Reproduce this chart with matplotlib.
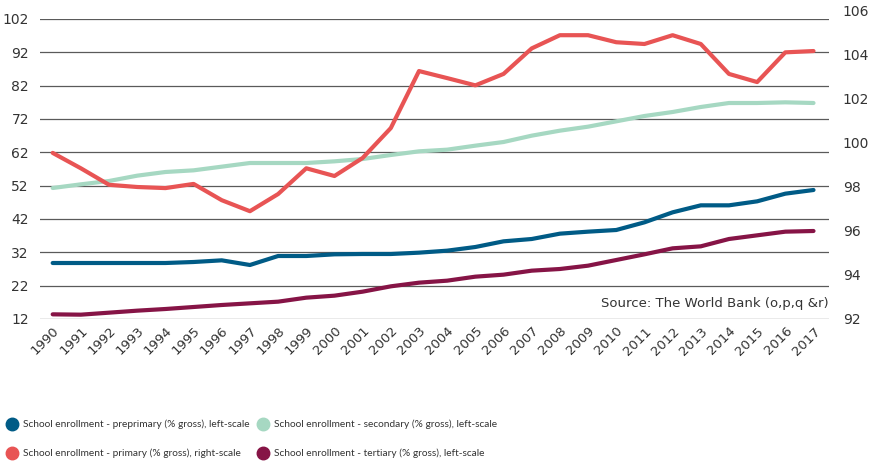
import matplotlib
matplotlib.use("Agg")
import matplotlib.pyplot as plt
from matplotlib.lines import Line2D
from matplotlib import font_manager as fm

plt.rcParams["font.family"] = ["DejaVu Sans"]

years = list(range(1990, 2018))
preprimary = [28.8, 28.8, 28.8, 28.8, 28.8, 29.1, 29.6, 28.2, 30.9, 30.9, 31.4, 31.5, 31.5, 31.9,
              32.5, 33.6, 35.3, 36.0, 37.6, 38.2, 38.7, 41.0, 44.0, 46.1, 46.1, 47.3, 49.6, 50.7]
secondary = [51.3, 52.4, 53.4, 55.0, 56.1, 56.6, 57.7, 58.8, 58.8, 58.8, 59.3, 60.0, 61.2, 62.3,
             62.8, 64.0, 65.1, 67.0, 68.5, 69.7, 71.3, 72.9, 74.1, 75.6, 76.8, 76.8, 77.0, 76.8]
tertiary = [13.4, 13.3, 13.9, 14.5, 15.0, 15.6, 16.2, 16.7, 17.2, 18.4, 19.0, 20.2, 21.8, 22.9,
            23.5, 24.7, 25.3, 26.5, 27.0, 28.0, 29.7, 31.4, 33.2, 33.8, 36.0, 37.1, 38.2, 38.4]
primary = [99.55, 98.85, 98.1, 98.0, 97.95, 98.14, 97.4, 96.9, 97.68, 98.85, 98.5, 99.32, 100.68, 103.27,
           102.95, 102.62, 103.14, 104.3, 104.9, 104.9, 104.58, 104.5, 104.9, 104.5, 103.14, 102.77, 104.12, 104.18]

left_ticks = [12, 22, 32, 42, 52, 62, 72, 82, 92, 102]
right_ticks = [92, 94, 96, 98, 100, 102, 104, 106]

legend_labels = [
    "School enrollment - preprimary (% gross), left-scale",
    "School enrollment - secondary (% gross), left-scale",
    "School enrollment - primary (% gross), right-scale",
    "School enrollment - tertiary (% gross), left-scale",
]

c_pre = "#005B86"
c_sec = "#A6D8C2"
c_pri = "#E85454"
c_ter = "#861446"

W, H = 874, 468
fig = plt.figure(figsize=(W / 100, H / 100), dpi=100)
L, R, T, B = 40, 829, 19, 319
ax = fig.add_axes([L / W, 1 - B / H, (R - L) / W, (B - T) / H])
T2 = 11
ax2 = fig.add_axes([L / W, 1 - B / H, (R - L) / W, (B - T2) / H], sharex=ax)
ax2.patch.set_visible(False)

tc = "#333333"
ax.set_ylim(12, 102)
ax.set_yticks(left_ticks)
ax.set_xlim(1989.55, 2017.55)
ax.set_xticks(years)
ax.set_xticklabels([str(y) for y in years], rotation=45, ha="right", rotation_mode="anchor",
                   fontsize=9.5, color=tc)
ax.tick_params(axis="both", length=0, colors=tc)
ax.tick_params(axis="y", labelsize=10, pad=8)
ax.tick_params(axis="x", pad=4)
ax.grid(axis="y", color="#5a5a5a", linewidth=0.9)
ax.set_axisbelow(True)
for s in ax.spines.values():
    s.set_visible(False)

ax.plot(years, secondary, color=c_sec, lw=3, solid_capstyle="round", zorder=3)
ax.plot(years, preprimary, color=c_pre, lw=3, solid_capstyle="round", zorder=3)
ax.plot(years, tertiary, color=c_ter, lw=3, solid_capstyle="round", zorder=3)

ax2.set_ylim(92, 106)
ax2.set_yticks(right_ticks)
ax2.yaxis.tick_right()
ax2.tick_params(axis="y", length=0, labelsize=10, colors=tc, pad=10)
ax2.tick_params(axis="x", which="both", bottom=False, labelbottom=False)
for s in ax2.spines.values():
    s.set_visible(False)
ax2.plot(years, primary, color=c_pri, lw=3, solid_capstyle="round", zorder=4)

fig.text(R / W, 1 - 303 / H, "Source: The World Bank (o,p,q &r)", ha="right", va="center",
         fontsize=9.5, color=tc)

# choose the narrowest installed sans family for the legend labels
fig.canvas.draw()
r = fig.canvas.get_renderer()
best_fam, best_w = "DejaVu Sans", None
for fam in ["Liberation Sans", "Roboto", "Lato", "Noto Sans", "Open Sans", "DejaVu Sans"]:
    try:
        fm.findfont(fm.FontProperties(family=fam), fallback_to_default=False)
    except Exception:
        continue
    t = fig.text(0, 0, legend_labels[0], fontsize=10, family=[fam])
    w = t.get_window_extent(r).width
    t.remove()
    if best_w is None or w < best_w:
        best_fam, best_w = fam, w
size = min(10.5, 10.0 * 226.0 / best_w)

positions = [(12, 424), (263, 424), (12, 453), (263, 453)]
colors = [c_pre, c_sec, c_pri, c_ter]
for (x, y), c, label in zip(positions, colors, legend_labels):
    fig.add_artist(Line2D([x / W], [1 - y / H], marker="o", markersize=9, color=c,
                          linestyle="none", transform=fig.transFigure))
    fig.text((x + 11) / W, 1 - y / H, label, ha="left", va="center",
             family=[best_fam], fontsize=size, color=tc)

fig.savefig("out.png", dpi=100)
